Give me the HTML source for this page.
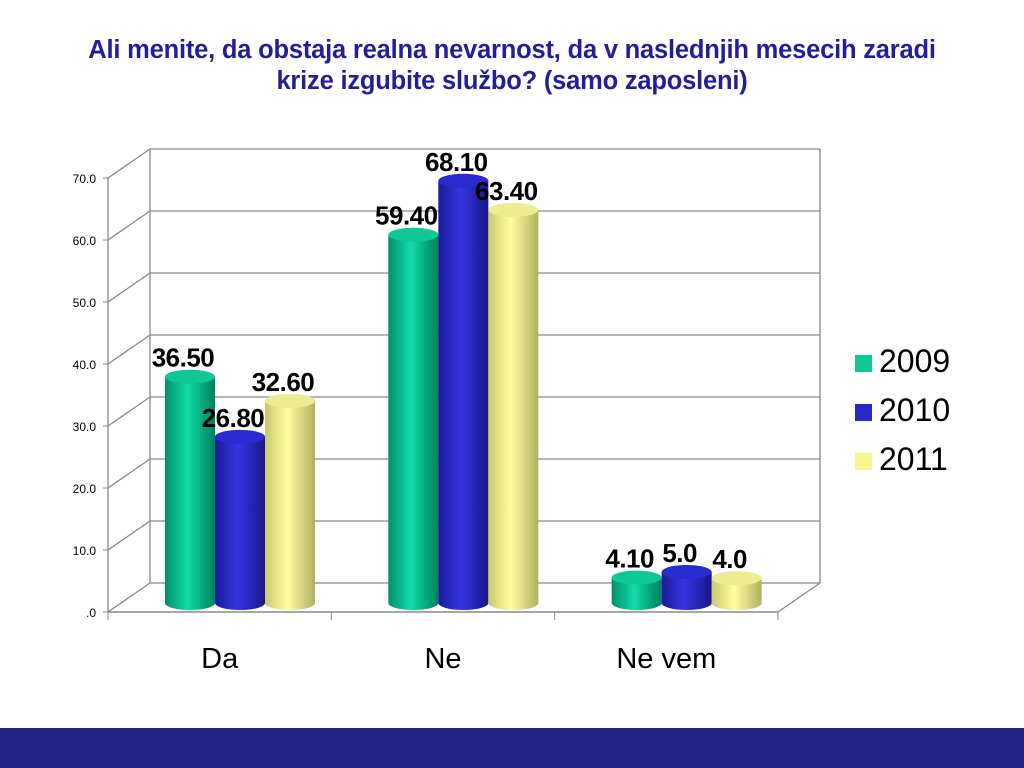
<!DOCTYPE html>
<html><head><meta charset="utf-8"><style>
body{margin:0;width:1024px;height:768px;background:#fff;overflow:hidden;font-family:"Liberation Sans",sans-serif;position:relative}
#title{position:absolute;left:0;width:1024px;top:35px;text-align:center;color:#1f1f9e;font-weight:bold;font-size:25.5px;line-height:31px;letter-spacing:-0.2px}
#band{position:absolute;left:0;top:728px;width:1024px;height:40px;background:#1f2382}
</style></head><body>
<div id="title">Ali menite, da obstaja realna nevarnost, da v naslednjih mesecih zaradi<br>krize izgubite službo? (samo zaposleni)</div>
<svg id="chart" width="1024" height="728" style="position:absolute;left:0;top:0">
<defs>
<linearGradient id="g0" x1="0" x2="1"><stop offset="0" stop-color="#00906a"/><stop offset=".45" stop-color="#10dca5"/><stop offset="1" stop-color="#008060"/></linearGradient>
<linearGradient id="g1" x1="0" x2="1"><stop offset="0" stop-color="#1a1a9a"/><stop offset=".45" stop-color="#3535e0"/><stop offset="1" stop-color="#18188a"/></linearGradient>
<linearGradient id="g2" x1="0" x2="1"><stop offset="0" stop-color="#c8c870"/><stop offset=".45" stop-color="#ffffa0"/><stop offset="1" stop-color="#b0b060"/></linearGradient>
</defs>
<g id="grid"></g><g id="bars"></g><g id="labels"></g>
</svg>
<div id="legend" style="position:absolute;left:855px;top:337px;font-size:32px;line-height:49px">
<div><span style="display:inline-block;width:17px;height:17px;background:#10c896;margin-right:7px"></span>2009</div>
<div><span style="display:inline-block;width:17px;height:17px;background:#2828c8;margin-right:7px"></span>2010</div>
<div><span style="display:inline-block;width:17px;height:17px;background:#f5f590;margin-right:7px"></span>2011</div>
</div>
<div id="band"></div>
<script>
const categories=["Da","Ne","Ne vem"];
const series2009=[36.5,59.4,4.1];
const series2010=[26.8,68.1,5.0];
const series2011=[32.6,63.4,4.0];
const labels2009=["36.50","59.40","4.10"];
const labels2010=["26.80","68.10","5.0"];
const labels2011=["32.60","63.40","4.0"];
const ticks=[0,10,20,30,40,50,60,70];
const tickLabels=[".0","10.0","20.0","30.0","40.0","50.0","60.0","70.0"];
const NS="http://www.w3.org/2000/svg";
const S=6.2,FY=612,DX=42,DY=29,X0=108,X1=778,BASE=603;
const y=v=>FY-v*S;
function mk(p,t,a){const e=document.createElementNS(NS,t);for(const k in a)e.setAttribute(k,a[k]);p.appendChild(e);return e;}
const grid=document.getElementById('grid');
ticks.forEach((t,i)=>{
 const yy=y(t);
 const l=mk(grid,'polyline',{points:`${X0},${yy} ${X0+DX},${yy-DY} ${X1+DX},${yy-DY}`,fill:'none',stroke:'#888','stroke-width':1.3});
 
 mk(grid,'line',{x1:X0-5,x2:X0,y1:yy,y2:yy,stroke:'#888'});
 const tx=mk(grid,'text',{x:X0-12,y:yy+5,'text-anchor':'end','font-size':12,fill:'#000'});
 tx.textContent=tickLabels[i];
 
});
mk(grid,'line',{x1:X0+DX,x2:X0+DX,y1:y(70)-DY,y2:y(0)-DY,stroke:'#888','stroke-width':1.3});
mk(grid,'line',{x1:X1+DX,x2:X1+DX,y1:y(70)-DY,y2:y(0)-DY,stroke:'#888','stroke-width':1.3});
mk(grid,'line',{x1:X1,x2:X1+DX,y1:FY,y2:FY-DY,stroke:'#888','stroke-width':1.3});
mk(grid,'line',{x1:X0,x2:X0,y1:y(70),y2:FY,stroke:'#888','stroke-width':1.3});
mk(grid,'line',{x1:X0,x2:X1,y1:FY,y2:FY,stroke:'#888','stroke-width':1.5});
const gw=(X1-X0)/categories.length;
for(let i=0;i<=categories.length;i++)mk(grid,'line',{x1:X0+i*gw,x2:X0+i*gw,y1:FY,y2:FY+8,stroke:'#888'});
const bars=document.getElementById('bars'),lab=document.getElementById('labels');
const all=[series2009,series2010,series2011],alll=[labels2009,labels2010,labels2011];
const caps=['#10c896','#2a2ad0','#ecec90'];
categories.forEach((c,ci)=>{
 const t=mk(grid,'text',{x:X0+gw*ci+gw/2,y:668,'text-anchor':'middle','font-size':29,fill:'#000'});
 t.textContent=c;
 all.forEach((s,si)=>{
  const bx=X0+gw*ci+57+si*50, w=50, top=BASE-s[ci]*S, rx=w/2, ry=7;
  const g=mk(bars,'g',{});
  
  
  mk(g,'path',{d:`M${bx},${top} L${bx},${BASE} A${rx},${ry} 0 0 0 ${bx+w},${BASE} L${bx+w},${top} Z`,fill:`url(#g${si})`});
  mk(g,'ellipse',{cx:bx+rx,cy:top,rx:rx,ry:ry,fill:caps[si]});
  const lt=mk(lab,'text',{x:bx+rx-7,y:top-10,'text-anchor':'middle','font-size':26,'font-weight':'bold',fill:'#000','letter-spacing':-0.5});
  lt.textContent=alll[si][ci];
  
 });
});
</script>
</body></html>
